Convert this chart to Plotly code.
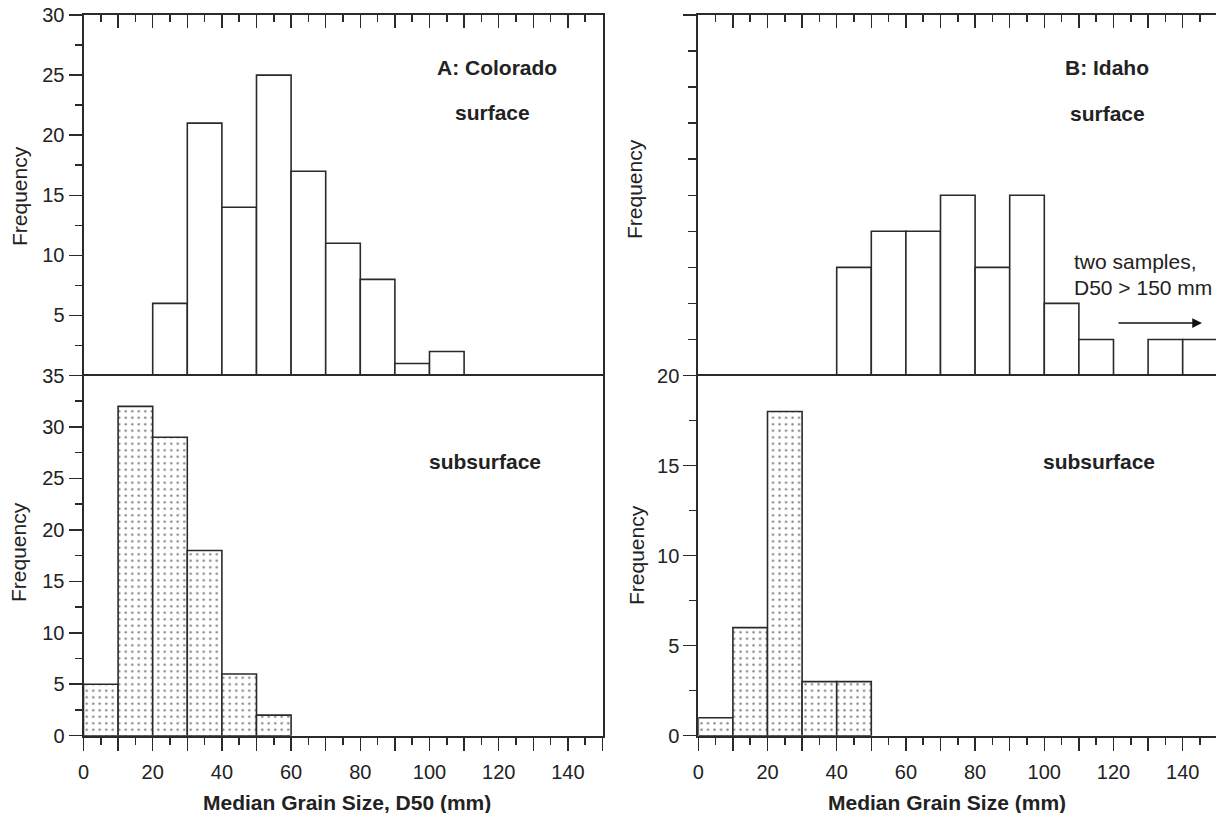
import plotly.graph_objects as go

# ---------------- data ----------------
co_surface_bins = [25, 35, 45, 55, 65, 75, 85, 95, 105]
co_surface_counts = [6, 21, 14, 25, 17, 11, 8, 1, 2]
co_sub_bins = [5, 15, 25, 35, 45, 55]
co_sub_counts = [5, 32, 29, 18, 6, 2]
id_surface_bins = [45, 55, 65, 75, 85, 95, 105, 115, 135, 145]
id_surface_counts = [3, 4, 4, 5, 3, 5, 2, 1, 1, 1]
id_sub_bins = [5, 15, 25, 35, 45]
id_sub_counts = [1, 6, 18, 3, 3]

x_tick_vals = list(range(0, 151, 10))
x_tick_text = [str(v) if v % 20 == 0 and v < 150 else "" for v in x_tick_vals]
x_minor_vals = list(range(5, 150, 10))

co_surf_yticks = [5, 10, 15, 20, 25, 30]
co_sub_yticks = [0, 5, 10, 15, 20, 25, 30, 35]
id_sub_yticks = [0, 5, 10, 15, 20]

# ---------------- style ----------------
W, H = 1216, 813
LINE = "#2a2a2a"
TXT = "#222222"
FONT = "Liberation Sans"
BIN_W = 10


def fx(x):
    return x / W


def fy(y):
    return 1 - y / H


def px(x, y):
    return fx(x), fy(y)


fig = go.Figure()

plain = dict(color="white", line=dict(color=LINE, width=1.6))
dotted = dict(color="white", line=dict(color=LINE, width=1.6),
              pattern=dict(shape=".", fgcolor="#000000", bgcolor="white",
                           size=6.5, solidity=0.11))

fig.add_trace(go.Bar(x=co_surface_bins, y=co_surface_counts, width=BIN_W,
                     marker=plain, xaxis="x", yaxis="y"))
fig.add_trace(go.Bar(x=id_surface_bins, y=id_surface_counts, width=BIN_W,
                     marker=plain, xaxis="x2", yaxis="y2"))
fig.add_trace(go.Bar(x=co_sub_bins, y=co_sub_counts, width=BIN_W,
                     marker=dotted, xaxis="x3", yaxis="y3"))
fig.add_trace(go.Bar(x=id_sub_bins, y=id_sub_counts, width=BIN_W,
                     marker=dotted, xaxis="x4", yaxis="y4"))

LX = [fx(83.5), fx(83.5 + 519)]
RX = [fx(698.3), 1.0]
R_MAX = 150 * (W - 698.3) / 519.0
UY = [fy(375.5), fy(15)]
LY = [fy(735.7), fy(375.5)]

common = dict(showline=True, linecolor=LINE, linewidth=2, showgrid=False,
              zeroline=False, tickcolor=LINE, tickwidth=1.5,
              tickfont=dict(size=20, color=TXT, family=FONT),
              ticklabeloverflow="allow",
              automargin=False, fixedrange=True)


def top_x(domain, rng, anchor):
    return dict(common, domain=domain, range=rng, anchor=anchor, side="top",
                ticks="inside", tickmode="array", tickvals=x_tick_vals,
                ticklen=13, showticklabels=False,
                minor=dict(tickmode="array", tickvals=x_minor_vals,
                           ticks="inside", ticklen=7, tickwidth=1.5,
                           tickcolor=LINE))


def bottom_x(domain, rng, anchor):
    return dict(common, domain=domain, range=rng, anchor=anchor, side="bottom",
                ticks="outside", tickmode="array", tickvals=x_tick_vals,
                ticktext=x_tick_text, ticklen=13, mirror=True,
                ticklabelstandoff=4,
                minor=dict(tickmode="array", tickvals=x_minor_vals,
                           ticks="outside", ticklen=7, tickwidth=1.5,
                           tickcolor=LINE))


fig.update_layout(
    xaxis=top_x(LX, [0, 150], "y"),
    xaxis2=top_x(RX, [0, R_MAX], "y2"),
    xaxis3=bottom_x(LX, [0, 150], "y3"),
    xaxis4=bottom_x(RX, [0, R_MAX], "y4"),
    yaxis=dict(common, domain=UY, range=[0, 30], anchor="x", ticks="outside",
               tickmode="array", tickvals=co_surf_yticks, ticklen=13,
               mirror=True,
               minor=dict(tickmode="array",
                          tickvals=[2.5, 7.5, 12.5, 17.5, 22.5, 27.5],
                          ticks="outside", ticklen=7, tickwidth=1.5,
                          tickcolor=LINE)),
    yaxis2=dict(common, domain=UY, range=[0, 10], anchor="x2", ticks="outside",
                tickmode="array", tickvals=[10], ticklen=13,
                showticklabels=False,
                minor=dict(tickmode="array", tickvals=[1, 2, 3, 4, 5, 6, 7, 8, 9],
                           ticks="outside", ticklen=8, tickwidth=1.5,
                           tickcolor=LINE)),
    yaxis3=dict(common, domain=LY, range=[0, 35], anchor="x3", ticks="outside",
                tickmode="array", tickvals=co_sub_yticks, ticklen=13,
                mirror=True,
                minor=dict(tickmode="array",
                           tickvals=[2.5, 7.5, 12.5, 17.5, 22.5, 27.5, 32.5],
                           ticks="outside", ticklen=7, tickwidth=1.5,
                           tickcolor=LINE)),
    yaxis4=dict(common, domain=LY, range=[0, 20], anchor="x4", ticks="outside",
                tickmode="array", tickvals=id_sub_yticks, ticklen=13,
                minor=dict(tickmode="array", tickvals=[2.5, 7.5, 12.5, 17.5],
                           ticks="outside", ticklen=7, tickwidth=1.5,
                           tickcolor=LINE)),
    width=W, height=H, autosize=False,
    margin=dict(l=0, r=0, t=0, b=0),
    plot_bgcolor="white", paper_bgcolor="white",
    showlegend=False, bargap=0, hovermode=False,
    font=dict(family=FONT, color=TXT),
)

ann = []


def add_text(text, x, y, size=21, bold=True, angle=0, xanchor="center"):
    ax_, ay_ = px(x, y)
    ann.append(dict(text=f"<b>{text}</b>" if bold else text, x=ax_, y=ay_,
                    xref="paper", yref="paper", showarrow=False,
                    xanchor=xanchor, yanchor="middle", textangle=angle,
                    font=dict(size=size, color=TXT, family=FONT)))


add_text("A: Colorado", 497, 67)
add_text("surface", 492, 112)
add_text("subsurface", 485, 461)
add_text("B: Idaho", 1107, 67)
add_text("surface", 1107, 113)
add_text("subsurface", 1099, 461)
add_text("two samples,", 1072, 261, bold=False, xanchor="left")
add_text("D50 &gt; 150 mm", 1072, 287, bold=False, xanchor="left")
add_text("Median Grain Size, D50 (mm)", 347, 802)
add_text("Median Grain Size (mm)", 947, 802)
add_text("Frequency", 19, 196, bold=False, angle=-90)
add_text("Frequency", 18, 552, bold=False, angle=-90)
add_text("Frequency", 635, 189, bold=False, angle=-90)
add_text("Frequency", 636, 555, bold=False, angle=-90)

# arrow
hx, hy = px(1202, 323)
ann.append(dict(text="", x=hx, y=hy, xref="paper", yref="paper",
                showarrow=True, ax=-85, ay=0, axref="pixel", ayref="pixel",
                arrowhead=2, arrowsize=1.3, arrowwidth=1.5, arrowcolor="#111"))

fig.update_layout(annotations=ann)

# the browser's default 8px body margin would shift and crop the figure
fig.write_html(
    "out.html",
    config={"displayModeBar": False, "staticPlot": True},
    post_script="document.body.style.margin='0px';"
                "document.body.style.overflow='hidden';",
)
